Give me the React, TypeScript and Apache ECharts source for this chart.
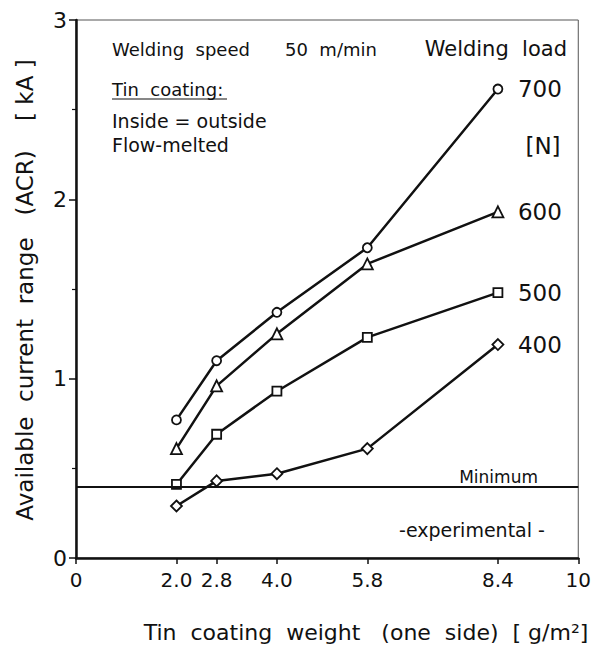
import React, { useEffect, useRef } from "react";
import * as echarts from "echarts";

const coatingWeights = [2.0, 2.8, 4.0, 5.8, 8.4];
const load700 = [0.77, 1.1, 1.37, 1.73, 2.615];
const load600 = [0.61, 0.96, 1.25, 1.64, 1.93];
const load500 = [0.41, 0.69, 0.93, 1.23, 1.48];
const load400 = [0.29, 0.43, 0.47, 0.61, 1.19];
const loadNames = ["700", "600", "500", "400"];
const loadSymbols = ["circle", "triangle", "rect", "diamond"];
const minimumLevel = 0.4;
const xTickValues = [0, 2.0, 2.8, 4.0, 5.8, 8.4, 10];

const FONT = "DejaVu Sans";
const INK = "#111";

export default function App() {
  const ref = useRef<HTMLDivElement>(null);
  useEffect(() => {
    if (!ref.current) return;
    const chart = echarts.init(ref.current, undefined, { renderer: "svg" });
    const loads = [load700, load600, load500, load400];
    const series: any[] = loads.map((vals, i) => ({
      type: "line",
      name: loadNames[i],
      data: coatingWeights.map((x, j) => [x, vals[j]]),
      symbol: loadSymbols[i],
      symbolSize: i === 1 ? 11 : i === 3 ? 11 : 9,
      showAllSymbol: true,
      lineStyle: { color: INK, width: 2.5 },
      itemStyle: { color: "#fff", borderColor: INK, borderWidth: 1.8 },
      z: 3,
      endLabel: {
        show: true,
        formatter: loadNames[i],
        distance: 20,
        fontFamily: FONT,
        fontSize: 23,
        color: INK,
      },
      markLine:
        i === 0
          ? {
              silent: true,
              symbol: "none",
              label: { show: false },
              lineStyle: { color: INK, width: 2, type: "solid" },
              data: [{ yAxis: minimumLevel }],
            }
          : undefined,
    }));
    const note = (text: string, x: number, y: number, size: number, align = "left") => ({
      type: "text",
      x,
      y,
      style: {
        text,
        fontFamily: FONT,
        fontSize: size,
        fill: INK,
        textAlign: align,
        textVerticalAlign: "middle",
      },
    });
    chart.setOption({
      animation: false,
      backgroundColor: "#fff",
      grid: {
        left: 76,
        right: 13,
        top: 20,
        bottom: 92,
        show: true,
        borderColor: "#555",
        borderWidth: 1,
      },
      xAxis: {
        type: "value",
        min: 0,
        max: 10,
        interval: 1,
        splitLine: { show: false },
        axisLine: { lineStyle: { color: INK, width: 2.5 } },
        axisTick: { customValues: xTickValues, length: 6, lineStyle: { color: INK, width: 1.5 } },
        axisLabel: {
          customValues: xTickValues,
          formatter: (v: number) => (v === 0 || v === 10 ? String(v) : v.toFixed(1)),
          fontFamily: FONT,
          fontSize: 20,
          color: INK,
          margin: 12,
        },
      },
      yAxis: {
        type: "value",
        min: 0,
        max: 3,
        interval: 1,
        splitLine: { show: false },
        axisLine: { lineStyle: { color: INK, width: 2.5 } },
        axisTick: { length: 7, lineStyle: { color: INK, width: 1.5 } },
        minorTick: { show: true, splitNumber: 2, length: 4, lineStyle: { color: INK, width: 1.2 } },
        axisLabel: { fontFamily: FONT, fontSize: 22, color: INK, margin: 9 },
      },
      series,
      graphic: [
        {
          type: "text",
          x: 25,
          y: 290,
          rotation: Math.PI / 2,
          style: {
            text: "Available  current  range   (ACR)    [ kA ]",
            fontFamily: FONT,
            fontSize: 23,
            fill: INK,
            textAlign: "center",
            textVerticalAlign: "middle",
          },
        },
        note("Tin  coating  weight   (one  side)  [ g/m\u00b2]", 366, 632, 22, "center"),
        note("Welding  speed", 112, 49, 18),
        note("50  m/min", 285, 49, 18),
        note("Welding  load", 567, 49, 21, "right"),
        note("Tin  coating:", 112, 89, 18),
        {
          type: "line",
          shape: { x1: 112, y1: 99, x2: 227, y2: 99 },
          style: { stroke: INK, lineWidth: 1.2 },
        },
        note("Inside = outside", 112, 121, 19),
        note("Flow-melted", 112, 145, 19),
        note("[N]", 543, 146, 23, "center"),
        note("Minimum", 538, 477, 17, "right"),
        note("-experimental -", 472, 530, 19, "center"),
      ],
    });
    return () => chart.dispose();
  }, []);
  return (
    <div
      ref={ref}
      style={{ position: "fixed", left: 0, top: 0, width: 594, height: 650, background: "#fff" }}
    />
  );
}
